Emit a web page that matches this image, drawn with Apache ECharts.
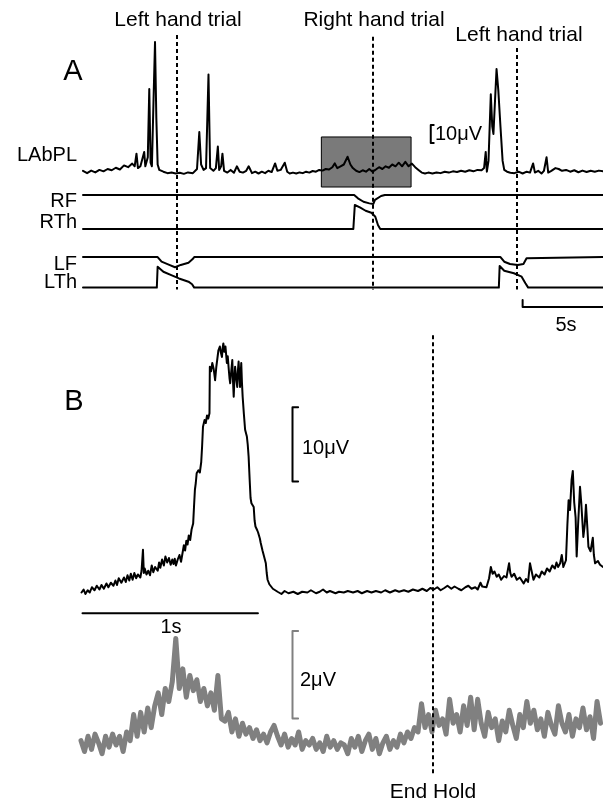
<!DOCTYPE html>
<html>
<head>
<meta charset="utf-8">
<script src="https://cdn.jsdelivr.net/npm/echarts@6.0.0/dist/echarts.min.js"></script>
<style>
  html, body { margin: 0; padding: 0; background: #fff; }
  #chart { width: 603px; height: 804px; }
</style>
</head>
<body>
<div id="chart"></div>
<script>
// ---- panel A: seconds / microvolts (force traces stacked at offsets) ----
var labpl = [[0.0,0.5],[0.25,-0.8],[0.5,0.6],[0.75,-0.4],[1.0,1.0],[1.25,0.2],[1.5,1.5],[1.75,0.8],[2.0,2.2],[2.25,1.2],
  [2.5,3.5],[2.75,2.5],[3.0,4.5],[3.15,3],[3.26,10],[3.35,2],[3.5,3],[3.6,2],[3.73,11],[3.8,3],[3.95,8],[4.04,46],
  [4.12,5],[4.2,3],[4.3,40],[4.39,72],[4.47,30],[4.55,4],[4.65,1],[4.9,0],[5.15,-0.8],[5.4,-0.5],[5.65,-1],[5.9,-0.6],
  [6.15,-1.2],[6.4,-0.4],[6.7,-0.8],[6.95,1.5],[7.09,22],[7.2,4],[7.35,1],[7.5,2],[7.65,54],[7.75,2],[7.95,0.5],[8.1,2],
  [8.22,14],[8.3,1],[8.42,3],[8.5,10],[8.6,0.5],[8.8,-0.5],[9.0,1],[9.2,-0.6],[9.38,3],[9.55,0],[9.75,-0.5],[9.95,0.5],
  [10.1,3],[10.3,-0.8],[10.5,0],[10.7,-1],[10.9,0],[11.1,-0.8],[11.3,0.5],[11.5,-0.2],[11.71,4.6],[11.85,0.5],[12.05,1],
  [12.3,5],[12.45,0],[12.6,-1],[12.8,-0.5],[13.0,-1],[13.2,-0.4],[13.4,-0.8],[13.6,0],[13.8,-0.5],[14.0,0.4],[14.2,0],
  [14.4,1],[14.6,0.6],[14.8,1.5],[15.0,1.2],[15.2,2.5],[15.35,4.6],[15.5,2],[15.7,3],[15.9,4],[16.13,8.3],[16.3,4],
  [16.45,2],[16.65,0.5],[16.85,-0.2],[17.05,0.8],[17.25,0],[17.45,1.5],[17.65,0],[17.85,1.2],[18.05,2.5],[18.25,1.5],
  [18.45,3],[18.65,2.2],[18.85,4],[19.05,3],[19.25,5],[19.45,3],[19.65,5.5],[19.85,3],[20.05,4.5],[20.25,2.5],[20.45,1],
  [20.65,-0.5],[20.85,-1],[21.05,-0.5],[21.3,-1],[21.55,-0.4],[21.8,-0.8],[22.05,0],[22.3,-0.5],[22.55,0.2],[22.8,-0.2],
  [23.05,0.5],[23.3,0],[23.55,0.8],[23.8,0.2],[24.05,1],[24.3,0.8],[24.45,2],[24.55,11],[24.62,0],[24.72,6],[24.86,43],
  [24.95,25],[25.02,21],[25.12,40],[25.21,57],[25.32,45],[25.45,25],[25.58,6],[25.68,1],[25.85,0],[26.05,-0.6],[26.3,-0.8],
  [26.55,0],[26.8,-1],[27.05,0],[27.25,-0.5],[27.44,4.6],[27.55,-0.5],[27.75,0.5],[27.95,-1],[28.1,0.5],[28.26,8],
  [28.36,-0.5],[28.55,0.5],[28.8,2],[29.0,1.5],[29.2,0.5],[29.45,1],[29.7,0],[29.95,0.8],[30.2,-0.3],[30.45,0.6],
  [30.7,-0.2],[30.95,0.5],[31.2,0],[31.45,0.6],[31.7,0.2]];
var rf = [[0,-12.9],[16.53,-12.9],[16.76,-14.8],[17.1,-16.7],[17.46,-17.6],[17.7,-17.9],[17.8,-15.7],[17.9,-14.6],
  [18.17,-13.5],[18.4,-12.9],[31.7,-12.9]];
var rth = [[0,-31.8],[16.48,-31.8],[16.57,-18.5],[16.88,-19.8],[17.23,-21.7],[17.58,-22.8],[17.82,-25],[17.98,-29.6],
  [18.12,-31.8],[31.7,-31.8]];
var lf = [[0,-47.4],[4.55,-47.4],[4.79,-50],[5.26,-51.8],[5.61,-53.1],[5.96,-51.8],[6.43,-50.6],[6.67,-48.7],[6.78,-47.4],
  [25.45,-47.4],[25.68,-50],[26.03,-51.3],[26.5,-51.8],[26.85,-51.3],[27.04,-48.1],[27.14,-47.4],[31.7,-47.4]];
var lth = [[0,-64.4],[4.5,-64.4],[4.55,-52.8],[4.9,-55.6],[5.38,-57.5],[5.85,-59.3],[6.43,-61.1],[6.65,-62.5],[6.78,-64.4],
  [25.35,-64.4],[25.4,-52.4],[25.68,-55],[26.27,-56.4],[26.74,-58.3],[26.97,-62],[27.14,-64.4],[31.7,-64.4]];
var trialTimes = [5.73, 17.68, 26.46];
var trialTops = [75.9, 75, 68.7];
var trialNames = ['Left hand trial', 'Right hand trial', 'Left hand trial'];
var boxA = [[14.53, 19.3], [20.0, -8.5]];

// ---- panel B: seconds / microvolts ----
var rectified = [[0.003,0],[0.015,0.4],[0.025,-0.2],[0.038,0.3],[0.05,0.0],[0.062,0.7],[0.077,0.3],[0.09,0.9],[0.105,0.4],
  [0.117,1.0],[0.13,0.5],[0.145,1.2],[0.156,0.7],[0.17,1.3],[0.185,0.9],[0.196,1.6],[0.205,1.0],[0.215,1.9],[0.23,1.3],
  [0.245,2.0],[0.255,1.4],[0.265,2.3],[0.275,1.6],[0.284,2.5],[0.294,1.7],[0.304,2.6],[0.314,1.9],[0.324,2.4],[0.338,2.0],
  [0.345,2.9],[0.353,5.7],[0.358,2.6],[0.363,3.2],[0.373,2.4],[0.383,2.9],[0.393,2.3],[0.403,3.6],[0.412,2.7],[0.422,3.4],
  [0.437,2.9],[0.445,4.0],[0.452,3.3],[0.462,4.4],[0.472,3.6],[0.481,4.8],[0.491,4.0],[0.501,4.6],[0.511,3.7],[0.52,4.4],
  [0.527,3.8],[0.534,4.5],[0.541,3.6],[0.551,4.4],[0.561,5.0],[0.570,4.1],[0.578,5.2],[0.586,6.3],[0.593,5.6],[0.600,6.9],
  [0.607,6.4],[0.614,7.6],[0.622,7.0],[0.630,8.4],[0.639,9.2],[0.644,11.5],[0.649,13.7],[0.654,14.6],[0.659,15.9],
  [0.669,16.3],[0.677,16.0],[0.685,17.4],[0.690,19.5],[0.695,22.1],[0.704,23.0],[0.711,22.6],[0.718,23.6],[0.725,23.2],
  [0.732,23.9],[0.734,30.1],[0.741,29.5],[0.748,30.6],[0.756,29.8],[0.764,28.3],[0.771,30.1],[0.777,31.2],[0.783,32.3],
  [0.791,32.8],[0.797,32.0],[0.803,31.4],[0.807,32.6],[0.811,33.2],[0.817,32.1],[0.823,32.8],[0.831,30.6],[0.836,31.5],
  [0.842,29.7],[0.846,28.6],[0.850,27.9],[0.856,29.5],[0.862,31.0],[0.866,28.2],[0.870,26.1],[0.874,28.4],[0.878,30.1],
  [0.884,28.6],[0.890,27.4],[0.894,29.6],[0.898,30.8],[0.902,29.0],[0.906,27.4],[0.910,29.2],[0.913,30.6],[0.917,28.0],
  [0.921,26.1],[0.928,23.8],[0.935,21.7],[0.940,21.5],[0.945,20.8],[0.950,19.7],[0.955,18.1],[0.961,15.0],[0.966,12.6],
  [0.971,11.9],[0.978,11.8],[0.984,11.4],[0.989,9.6],[0.994,8.8],[1.004,8.3],[1.009,8.0],[1.014,7.9],[1.019,7.2],
  [1.024,6.6],[1.034,5.6],[1.043,4.8],[1.053,3.9],[1.058,2.6],[1.063,1.7],[1.073,1.1],[1.083,0.8],[1.093,0.5],[1.103,0.3],
  [1.12,0.1],[1.142,-0.2],[1.16,0.2],[1.182,-0.1],[1.21,0.1],[1.235,-0.2],[1.26,0.1],[1.29,0.0],[1.31,0.3],[1.339,-0.1],
  [1.36,0.1],[1.379,0.4],[1.40,0.0],[1.418,0.2],[1.45,-0.1],[1.47,0.1],[1.497,0.0],[1.52,0.2],[1.55,0.0],[1.576,0.2],
  [1.60,-0.1],[1.63,0.2],[1.655,0.0],[1.68,0.2],[1.71,0.0],[1.733,0.3],[1.76,0.0],[1.79,0.3],[1.812,0.1],[1.84,0.3],
  [1.865,0.1],[1.891,0.4],[1.92,0.2],[1.945,0.5],[1.970,0.2],[1.99,0.6],[2.010,0.4],[2.03,0.7],[2.049,0.3],[2.07,0.6],
  [2.088,0.9],[2.11,0.5],[2.128,0.8],[2.15,0.5],[2.167,0.3],[2.19,0.7],[2.207,0.9],[2.225,0.5],[2.246,0.7],[2.26,0.4],
  [2.276,1.3],[2.286,0.8],[2.296,1.0],[2.31,0.7],[2.325,1.9],[2.335,3.4],[2.345,2.5],[2.356,2.8],[2.368,2.1],[2.38,2.4],
  [2.394,1.7],[2.41,2.2],[2.424,2.0],[2.439,3.9],[2.446,2.6],[2.453,2.1],[2.468,2.5],[2.483,1.7],[2.50,2.0],[2.522,1.2],
  [2.535,1.8],[2.547,1.4],[2.558,3.9],[2.566,3.0],[2.578,1.7],[2.592,2.4],[2.611,2.0],[2.625,2.8],[2.641,2.4],[2.655,3.2],
  [2.670,2.8],[2.685,3.6],[2.700,3.2],[2.709,4.0],[2.718,3.4],[2.730,3.9],[2.739,5.0],[2.748,3.4],[2.763,4.3],[2.771,9],
  [2.778,12.3],[2.786,11],[2.795,15],[2.802,16.2],[2.810,12],[2.818,10],[2.824,4.8],[2.832,9],[2.843,14.1],[2.850,12],
  [2.862,7.4],[2.870,9],[2.877,11.7],[2.884,9],[2.891,6.1],[2.903,5.5],[2.916,7.3],[2.922,5],[2.929,3.9],[2.945,4.2],
  [2.957,3.7],[2.974,3.4]];
var grayStep = 0.02;
var averaged = [0.1,-0.15,0.2,-0.1,0.25,0.05,-0.2,0.2,-0.05,0.25,0.0,0.2,-0.15,0.3,0.1,
  0.7,0.2,0.75,0.3,0.85,
  0.4,0.9,1.2,0.7,1.3,1.0,1.45,
  2.45,
  1.3,1.75,1.1,1.6,1.25,1.5,
  1.0,1.3,0.9,1.2,0.8,1.6,0.6,
  0.55,0.75,0.3,0.6,0.2,0.5,0.25,0.4,0.15,0.35,0.1,0.25,0.05,0.3,0.45,
  0.2,0.0,0.25,-0.05,0.15,0.0,0.3,-0.1,0.1,
  0.0,0.15,-0.1,0.05,-0.15,0.2,-0.05,0.1,-0.1,0.05,0.0,-0.2,0.15,-0.05,0.2,-0.15,0.1,0.25,-0.1,0.15,-0.2,0.05,0.2,-0.1,0.1,-0.05,0.25,0.05,
  0.3,0.15,0.4,0.3,0.95,
  0.4,0.7,0.3,0.8,0.45,0.6,0.25,1.05,0.5,0.7,0.3,0.9,0.45,1.1,0.35,1.05,0.5,0.2,0.75,0.4,
  0.6,0.1,0.55,0.3,0.8,0.45,0.15,0.7,0.4,1.0,0.5,0.8,0.35,0.6,0.2,0.75,0.45,0.25,0.9,0.5,
  0.3,0.7,0.2,0.6,0.4,0.85,0.35,0.65,0.15,1.0,0.5];
var endHold = 2.006;

var chartDom = document.getElementById('chart');
var myChart = echarts.init(chartDom);
var option;

function trace(data, gi, color, width, z) {
  return {
    type: 'line', data: data, xAxisIndex: gi, yAxisIndex: gi,
    symbol: 'none', silent: true, animation: false, z: z || 3,
    lineStyle: { color: color, width: width, join: 'round', cap: 'round' }
  };
}
function bracket(x, y1, y2, tick) {
  return [[x + tick, y1], [x, y1], [x, y2], [x + tick, y2]];
}
function dashed(gi, lines) {
  return {
    type: 'line', data: [], xAxisIndex: gi, yAxisIndex: gi, z: 5, silent: true,
    markLine: {
      symbol: 'none', silent: true, animation: false, label: { show: false },
      lineStyle: { color: '#000', width: 2, type: [4, 3] },
      data: lines
    }
  };
}
function txt(s, x, y, size, align) {
  return {
    type: 'text', x: x, y: y, silent: true,
    style: { text: s, font: size + 'px "Liberation Sans", Arial, sans-serif', fill: '#000',
      align: align || 'center', textAlign: align || 'center', verticalAlign: 'middle', textVerticalAlign: 'middle' }
  };
}

var trialLines = trialTimes.map(function (t, i) {
  return [{ coord: [t, trialTops[i]] }, { coord: [t, -65.5] }];
});

option = {
  animation: false,
  grid: [
    { left: 83, top: 27.7, width: 520, height: 280.8 },
    { left: 81, top: 330, width: 522, height: 450 },
    { left: 81, top: 614.5, width: 522, height: 165.3 }
  ],
  xAxis: [
    { type: 'value', gridIndex: 0, min: 0, max: 31.7, show: false },
    { type: 'value', gridIndex: 1, min: 0, max: 2.974, show: false },
    { type: 'value', gridIndex: 2, min: 0, max: 2.974, show: false }
  ],
  yAxis: [
    { type: 'value', gridIndex: 0, min: -76, max: 80, show: false },
    { type: 'value', gridIndex: 1, min: -25, max: 35, show: false },
    { type: 'value', gridIndex: 2, min: -0.8, max: 3.0, show: false }
  ],
  series: [
    {
      type: 'line', data: [], xAxisIndex: 0, yAxisIndex: 0, z: 1, silent: true,
      markArea: {
        silent: true,
        itemStyle: { color: '#7a7a7a', borderColor: '#000', borderWidth: 1 },
        data: [[{ coord: boxA[0] }, { coord: boxA[1] }]]
      }
    },
    trace(labpl, 0, '#000', 2),
    trace(rf, 0, '#000', 2),
    trace(rth, 0, '#000', 2),
    trace(lf, 0, '#000', 2),
    trace(lth, 0, '#000', 2),
    dashed(0, trialLines),
    trace([[26.8, -71.3], [26.8, -75.2], [31.7, -75.2]], 0, '#000', 2),
    trace(bracket(21.2, 25.9, 15.9, 0.18), 0, '#000', 2),

    trace(averaged.map(function (v, i) { return [i * grayStep, v]; }), 2, '#808080', 5, 2),
    trace(bracket(1.205, 2.62, 0.61, 0.032), 2, '#808080', 2),
    trace(rectified, 1, '#000', 2),
    trace(bracket(1.205, 24.7, 14.8, 0.032), 1, '#000', 2),
    trace([[0.0085, -2.78], [1.008, -2.78]], 1, '#000', 2),
    dashed(1, [[{ coord: [endHold, 34.3] }, { coord: [endHold, -24.1] }]])
  ],
  graphic: [
    txt(trialNames[0], 178, 20, 21),
    txt(trialNames[1], 374, 20, 21),
    txt(trialNames[2], 519, 35, 21),
    txt('A', 73, 72, 29),
    txt('LAbPL', 77, 155, 20, 'right'),
    txt('RF', 77, 201, 20, 'right'),
    txt('RTh', 77, 222, 20, 'right'),
    txt('LF', 77, 264, 20, 'right'),
    txt('LTh', 77, 282, 20, 'right'),
    txt('10μV', 435, 134, 20, 'left'),
    txt('5s', 566, 325, 20),
    txt('B', 74, 402, 29),
    txt('10μV', 302, 448, 20, 'left'),
    txt('1s', 171, 627, 20),
    txt('2μV', 300, 680, 20, 'left'),
    txt('End Hold', 433, 792, 21)
  ]
};

option && myChart.setOption(option);
</script>
</body>
</html>
